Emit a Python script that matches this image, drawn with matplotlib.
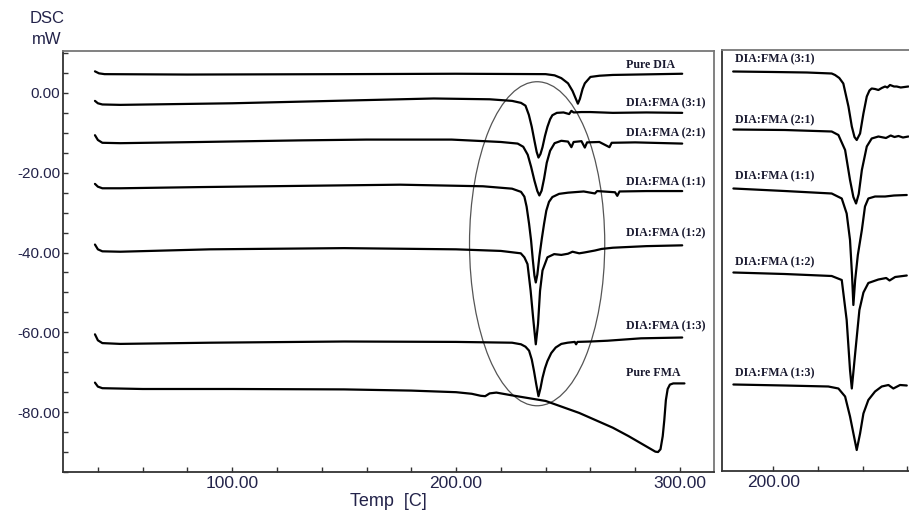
import matplotlib
matplotlib.use("Agg")
import matplotlib.pyplot as plt
from matplotlib.patches import Ellipse
from matplotlib.ticker import MultipleLocator, FixedLocator, FormatStrFormatter

# ---------------- main panel data (Temp [C], DSC [mW]) ----------------
pure_dia_t = [38.7, 40.5, 43, 80, 150, 200, 240, 244, 247, 250, 252, 253.5, 254.4, 255.3, 256.5, 257.5, 260, 264, 270, 301]
pure_dia_y = [5.4, 4.9, 4.7, 4.6, 4.7, 4.8, 4.7, 4.4, 3.7, 2.4, 0.5, -1.5, -2.7, -1.5, 1.0, 2.4, 4.0, 4.3, 4.5, 4.8]

r31_t = [38.7, 40, 42, 50, 100, 160, 190, 215, 225, 229, 231, 232.5, 233.8, 235, 236, 236.8, 237.7, 238.6, 239.7, 240.8, 242, 243, 245, 248, 250.5, 251.5, 252.5, 256, 260, 270, 285, 301]
r31_y = [-2.0, -2.6, -2.9, -3.0, -2.6, -1.8, -1.4, -1.6, -2.0, -2.5, -3.2, -5.5, -8.5, -12.0, -14.8, -16.2, -15.3, -13.6, -10.8, -8.5, -6.6, -5.6, -5.0, -4.9, -5.3, -4.5, -4.9, -4.8, -4.8, -5.0, -4.9, -5.0]

r21_t = [38.7, 40, 42, 50, 86, 130, 160, 198, 220, 227.5, 230, 232, 233.5, 235, 236.3, 237.2, 238.2, 239.3, 240.5, 242, 244, 247, 250, 251.5, 252.5, 256, 257.5, 258.5, 264, 268.5, 269.5, 280, 301]
r21_y = [-10.6, -11.8, -12.5, -12.6, -12.3, -11.9, -11.7, -11.7, -12.3, -12.7, -13.5, -15.5, -18.5, -22.0, -24.6, -25.7, -24.5, -21.5, -17.5, -14.5, -12.6, -12.0, -12.2, -13.6, -12.3, -12.1, -13.7, -12.4, -12.3, -13.6, -12.5, -12.4, -12.7]

r11_t = [38.7, 40, 42, 50, 86, 130, 175, 212, 225, 229, 230.5, 231.5, 232.6, 233.5, 234.3, 235.0, 235.6, 236.3, 237.2, 238.3, 239.3, 240.3, 241.5, 243, 246, 250, 257, 262, 263, 271, 272, 273, 285, 301]
r11_y = [-22.8, -23.5, -23.9, -23.9, -23.6, -23.3, -23.0, -23.4, -24.0, -24.8, -26.0, -28.5, -32.8, -37.0, -42.0, -45.8, -47.5, -45.5, -41.0, -36.5, -32.8, -29.5, -27.3, -26.1, -25.3, -25.0, -24.7, -25.2, -24.6, -24.9, -25.8, -24.7, -24.6, -24.6]

r12_t = [38.7, 40, 42, 50, 90, 150, 200, 220, 228.9, 230.5, 231.9, 233.3, 234.4, 235.6, 236.6, 237.5, 238.6, 240.8, 243.8, 247, 250, 252, 255, 257.2, 262, 265, 270, 273.6, 285, 301]
r12_y = [-38.0, -39.2, -39.7, -39.8, -39.2, -38.9, -39.2, -39.6, -40.2, -41.2, -42.9, -49.6, -56.3, -63.0, -57.9, -49.6, -44.5, -41.2, -40.4, -40.6, -40.3, -39.8, -40.2, -40.0, -39.5, -39.1, -38.8, -38.7, -38.4, -38.2]

r13_t = [38.7, 40, 42, 50, 90, 150, 200, 225, 229, 231, 232.6, 233.8, 234.8, 235.8, 236.8, 237.7, 238.6, 239.7, 240.8, 242.5, 244.5, 247, 249.8, 253, 253.6, 254.2, 260, 267.7, 282.6, 301]
r13_y = [-60.5, -62.0, -62.7, -62.9, -62.6, -62.3, -62.4, -62.6, -63.0, -63.6, -64.6, -66.8, -69.7, -73.0, -76.0, -74.0, -71.4, -69.0, -67.2, -65.2, -63.8, -62.9, -62.6, -62.4, -63.0, -62.4, -62.3, -62.1, -61.5, -61.3]

pure_fma_t = [38.7, 40, 42, 60, 100, 150, 180, 200, 207, 211, 213, 215, 218, 225, 240, 255, 270, 277, 285, 289, 290.2, 291.3, 292.3, 293, 293.7, 294.5, 295.5, 297, 302]
pure_fma_y = [-72.6, -73.6, -74.0, -74.2, -74.2, -74.3, -74.6, -75.0, -75.4, -75.9, -76.0, -75.3, -75.1, -75.8, -77.2, -80.2, -83.9, -86.0, -88.6, -89.9, -90.0, -89.3, -86.0, -82.0, -77.0, -74.2, -73.1, -72.8, -72.8]

main_labels = ["Pure DIA", "DIA:FMA (3:1)", "DIA:FMA (2:1)", "DIA:FMA (1:1)",
               "DIA:FMA (1:2)", "DIA:FMA (1:3)", "Pure FMA"]
main_label_y = [7.1, -2.7, -10.2, -22.4, -35.2, -58.4, -70.1]

# ---------------- right (zoomed) panel data ----------------
z31_t = [182.0, 200, 215, 226.1, 227.6, 229.5, 231.3, 233.6, 235.1, 236.3, 237.3, 238.8, 240.3, 241.8, 243, 244.0, 245.5, 247.0, 248.5, 250.0, 251, 252.2, 254, 255.2, 257, 260.4]
z31_y = [5.7, 5.6, 5.5, 5.3, 5.0, 4.4, 3.3, -1.3, -5.3, -7.4, -8.0, -6.7, -2.7, 0.7, 1.9, 2.3, 2.2, 2.0, 2.4, 2.7, 2.5, 3.0, 2.7, 2.7, 2.5, 2.7]

z21_t = [182.1, 205, 226.1, 229.1, 232.1, 234.3, 235.8, 237.0, 238.2, 239.6, 241.8, 244.0, 247.0, 250.4, 252.5, 254.2, 256, 258, 260.4]
z21_y = [-5.9, -6.0, -6.3, -7.0, -10.0, -16.0, -19.4, -20.7, -18.8, -14.0, -9.3, -7.7, -7.3, -7.6, -7.1, -7.4, -7.2, -7.5, -7.3]

z11_t = [182.1, 205, 226.1, 230.6, 232.8, 234.3, 235.2, 235.8, 236.6, 237.8, 239.6, 241.0, 242.5, 245.5, 250, 254, 259.7]
z11_y = [-17.7, -18.2, -18.7, -19.7, -22.7, -28.0, -35.0, -41.0, -36.0, -31.0, -26.0, -21.3, -19.7, -19.3, -19.3, -19.1, -19.0]

z12_t = [182.1, 205, 226.1, 230.6, 232.8, 234.3, 235.1, 236.6, 238.5, 240.3, 242.5, 247.0, 250.5, 252, 254.5, 259.7]
z12_y = [-34.5, -34.8, -35.2, -36.0, -44.0, -54.0, -57.7, -50.7, -42.0, -38.5, -36.6, -35.9, -35.6, -36.1, -35.4, -35.1]

z13_t = [182.1, 205, 224.6, 229.1, 232.1, 234.3, 237.3, 238.8, 240.3, 242.5, 245.5, 248.5, 251.5, 253.7, 256.7, 259.7]
z13_y = [-56.9, -57.1, -57.3, -57.7, -59.3, -63.3, -70.0, -66.7, -62.7, -60.0, -58.3, -57.3, -57.0, -57.7, -57.0, -57.1]

zoom_labels = ["DIA:FMA (3:1)", "DIA:FMA (2:1)", "DIA:FMA (1:1)", "DIA:FMA (1:2)", "DIA:FMA (1:3)"]
zoom_label_y = [8.1, -4.0, -15.3, -32.5, -54.7]

y_major = [-80, -60, -40, -20, 0]
x_major = [100, 200, 300]

# ---------------- styling ----------------
W, H = 909, 513
fig = plt.figure(figsize=(W / 100, H / 100), dpi=100)
plt.rcParams['font.family'] = ['Liberation Sans', 'DejaVu Sans']
tick_color = '#23234a'
line_kw = dict(color='black', lw=1.6, solid_capstyle='round', solid_joinstyle='round')
lab_kw = dict(family='Liberation Serif', fontweight='bold', fontsize=8.6, color='#1a1a30',
              ha='left', va='center')

def px(x0, y0, x1, y1):
    return [x0 / W, 1 - y1 / H, (x1 - x0) / W, (y1 - y0) / H]

ax = fig.add_axes(px(62.5, 51, 714, 472))
ax.set_xlim(24.2, 315.2)
ax.set_ylim(-95.0, 10.5)

series = [(pure_dia_t, pure_dia_y), (r31_t, r31_y), (r21_t, r21_y), (r11_t, r11_y),
          (r12_t, r12_y), (r13_t, r13_y), (pure_fma_t, pure_fma_y)]
for t, y in series:
    ax.plot(t, y, **line_kw)
for lab, ly in zip(main_labels, main_label_y):
    ax.text(275.8, ly, lab, **lab_kw)

ax.add_patch(Ellipse((236.2, -37.8), 60.4, 81.2, fill=False, ec='#555555', lw=0.9))

ax.xaxis.set_major_locator(FixedLocator(x_major))
ax.xaxis.set_minor_locator(MultipleLocator(20))
ax.yaxis.set_major_locator(FixedLocator(y_major))
ax.yaxis.set_minor_locator(MultipleLocator(5))
ax.xaxis.set_major_formatter(FormatStrFormatter('%.2f'))
ax.yaxis.set_major_formatter(FormatStrFormatter('%.2f'))
ax.tick_params(axis='both', which='both', direction='in', length=3.5, width=1.0, color='#333333')
ax.tick_params(axis='x', which='major', labelsize=12.5, labelcolor=tick_color, pad=3)
ax.tick_params(axis='y', which='major', labelsize=11, labelcolor=tick_color, pad=1.5)
ax.set_xlabel('Temp  [C]', fontsize=13, color=tick_color, labelpad=1)
for side in ['left', 'bottom']:
    ax.spines[side].set_color('#333333')
    ax.spines[side].set_linewidth(1.3)
for side in ['top', 'right']:
    ax.spines[side].set_color('#777777')
    ax.spines[side].set_linewidth(1.3)

fig.text(47 / W, 1 - 19 / H, 'DSC', fontsize=12, color=tick_color, ha='center', va='center')
fig.text(47 / W, 1 - 40 / H, 'mW', fontsize=12, color=tick_color, ha='center', va='center')

# ---------------- right zoom panel ----------------
az = fig.add_axes(px(722, 50, 909, 471))
az.set_xlim(177.0, 260.7)
az.set_ylim(-74.2, 10.0)
zseries = [(z31_t, z31_y), (z21_t, z21_y), (z11_t, z11_y), (z12_t, z12_y), (z13_t, z13_y)]
for t, y in zseries:
    az.plot(t, y, **line_kw)
for lab, ly in zip(zoom_labels, zoom_label_y):
    az.text(182.6, ly, lab, **lab_kw)
az.xaxis.set_major_locator(FixedLocator([200]))
az.xaxis.set_minor_locator(FixedLocator([220, 240, 260]))
az.xaxis.set_major_formatter(FormatStrFormatter('%.2f'))
az.set_yticks([])
az.tick_params(axis='x', which='both', direction='in', length=3.5, width=1.0, color='#333333')
az.tick_params(axis='x', which='major', labelsize=12.5, labelcolor=tick_color, pad=3)
az.spines['left'].set_color('#333333')
az.spines['bottom'].set_color('#333333')
az.spines['top'].set_color('#777777')
az.spines['right'].set_visible(False)
for side in ['left', 'bottom', 'top']:
    az.spines[side].set_linewidth(1.3)

fig.savefig('out.png', dpi=100)
